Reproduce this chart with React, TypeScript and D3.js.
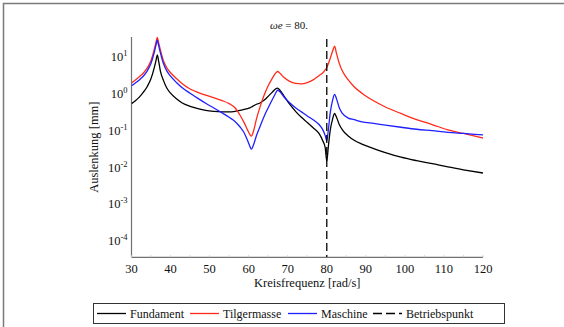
import { useEffect, useRef } from 'react'
import * as d3 from 'd3'

// frequency grid [rad/s]
const freq = [30, 31, 32, 33, 34, 35, 35.8, 36.3, 36.6, 36.9, 37.4, 38.2, 39, 40, 41.5, 43, 45, 47, 49, 51, 53, 55, 56.5, 57.8, 58.8, 59.7, 60.3, 60.7, 61.2, 62, 63, 64, 65, 66, 66.8, 67.4, 68, 69, 70.5, 72, 73.5, 75, 76.5, 78, 79, 79.6, 80, 80.4, 80.9, 81.5, 82, 82.5, 83.2, 84, 85.5, 87, 89, 92, 95, 99, 103, 107, 111, 115, 120]

// amplitudes [mm]
const fundament = [0.52, 0.62, 0.78, 1.05, 1.5, 2.5, 4.8, 8, 11, 8, 4.0, 2.2, 1.4, 1.0, 0.7, 0.54, 0.44, 0.38, 0.34, 0.32, 0.31, 0.31, 0.32, 0.34, 0.36, 0.38, 0.4, 0.42, 0.45, 0.5, 0.55, 0.65, 0.82, 1.05, 1.28, 1.38, 1.2, 0.85, 0.5, 0.32, 0.22, 0.16, 0.115, 0.08, 0.05, 0.033, 0.014, 0.035, 0.1, 0.2, 0.28, 0.22, 0.14, 0.1, 0.068, 0.052, 0.041, 0.031, 0.024, 0.018, 0.0145, 0.012, 0.0098, 0.0082, 0.0067]
const tilgermasse = [1.9, 2.3, 2.8, 3.5, 4.8, 7.8, 15, 25, 33, 25, 15, 7.5, 5.0, 3.6, 2.5, 1.8, 1.3, 1.05, 0.88, 0.76, 0.64, 0.52, 0.4, 0.25, 0.16, 0.1, 0.075, 0.068, 0.09, 0.2, 0.45, 0.9, 1.6, 2.5, 3.4, 3.9, 3.5, 2.7, 2.1, 1.85, 1.8, 1.95, 2.3, 3.0, 3.6, 4.3, 5.0, 6.3, 9, 14, 19, 12, 6.5, 4.0, 2.3, 1.5, 1.0, 0.62, 0.42, 0.28, 0.19, 0.14, 0.1, 0.08, 0.06]
const maschine = [1.6, 1.9, 2.3, 2.9, 4.0, 6.5, 12.5, 21, 28, 21, 12.5, 6.3, 4.1, 2.9, 1.95, 1.4, 1.0, 0.72, 0.53, 0.4, 0.3, 0.22, 0.17, 0.12, 0.085, 0.052, 0.036, 0.03, 0.038, 0.07, 0.13, 0.24, 0.4, 0.65, 0.95, 1.2, 1.1, 0.8, 0.55, 0.4, 0.31, 0.24, 0.19, 0.14, 0.1, 0.07, 0.05, 0.1, 0.3, 0.65, 0.93, 0.7, 0.4, 0.28, 0.21, 0.19, 0.165, 0.15, 0.135, 0.118, 0.104, 0.095, 0.086, 0.08, 0.073]

const xTicks = [30, 40, 50, 60, 70, 80, 90, 100, 110, 120]
const yExps = [1, 0, -1, -2, -3, -4]
const betriebspunkt = 80

const series = [
  { name: 'Fundament', color: '#000000', values: fundament },
  { name: 'Tilgermasse', color: '#ff2a1a', values: tilgermasse },
  { name: 'Maschine', color: '#1f1fff', values: maschine },
]

export default function App() {
  const svgRef = useRef<SVGSVGElement>(null)

  useEffect(() => {
    if (!svgRef.current) return
    const svg = d3.select(svgRef.current)
    svg.selectAll('*').remove()
    const W = 564, H = 327
    const m = { l: 131.5, r: 81, t: 37, b: 69.7 }
    const font = '"Liberation Serif", "Times New Roman", serif'

    svg.attr('width', W).attr('height', H)

    // outer frame
    svg.append('rect').attr('x', 3.5).attr('y', 3.5).attr('width', 580).attr('height', 340)
      .attr('fill', 'none').attr('stroke', '#7a7a7a').attr('stroke-width', 1.5)

    const x = d3.scaleLinear().domain([30, 120]).range([m.l, W - m.r])
    const y = d3.scaleLog().domain([Math.pow(10, -4.47), Math.pow(10, 1.53)]).range([H - m.b, m.t])

    svg.append('defs').append('clipPath').attr('id', 'plotclip').append('rect')
      .attr('x', m.l).attr('y', m.t - 3).attr('width', W - m.r - m.l).attr('height', H - m.b - m.t + 3)

    // axes
    const axisColor = '#707070'
    svg.append('line').attr('x1', m.l).attr('x2', m.l).attr('y1', m.t).attr('y2', H - m.b)
      .attr('stroke', axisColor).attr('stroke-width', 1.2)
    svg.append('line').attr('x1', m.l).attr('x2', W - m.r).attr('y1', H - m.b).attr('y2', H - m.b)
      .attr('stroke', axisColor).attr('stroke-width', 1.2)

    d3.range(30, 121, 5).forEach(t => {
      svg.append('line').attr('x1', x(t)).attr('x2', x(t)).attr('y1', H - m.b).attr('y2', H - m.b - 2)
        .attr('stroke', '#c8c8c8').attr('stroke-width', 1)
    })

    xTicks.forEach(t => {
      svg.append('text').attr('x', x(t)).attr('y', H - m.b + 16).attr('text-anchor', 'middle')
        .attr('font-family', font).attr('font-size', 12.5).attr('fill', '#111').text(t)
    })

    yExps.forEach(e => {
      const yy = y(Math.pow(10, e))
      const t = svg.append('text').attr('x', m.l - 4).attr('y', yy + 5).attr('text-anchor', 'end')
        .attr('font-family', font).attr('font-size', 12.5).attr('fill', '#111')
      t.append('tspan').text('10')
      t.append('tspan').attr('dy', -5).attr('font-size', 8.5).text(String(e))
    })

    svg.append('text').attr('x', x(75)).attr('y', H - m.b + 30).attr('text-anchor', 'middle')
      .attr('font-family', font).attr('font-size', 12.5).attr('fill', '#111').text('Kreisfrequenz [rad/s]')
    svg.append('text').attr('transform', `translate(98,${(m.t + H - m.b) / 2}) rotate(-90)`)
      .attr('text-anchor', 'middle').attr('font-family', font).attr('font-size', 12.5).attr('fill', '#111')
      .text('Auslenkung [mm]')

    // title
    const title = svg.append('text').attr('x', 289).attr('y', 29).attr('text-anchor', 'middle')
      .attr('font-family', font).attr('font-size', 11).attr('fill', '#111')
    title.append('tspan').attr('font-style', 'italic').text('ωe')
    title.append('tspan').text(' = 80.')

    // curves
    const line = d3.line<number>()
      .x((_, i) => x(freq[i])).y(v => y(v)).curve(d3.curveMonotoneX)
    const g = svg.append('g').attr('clip-path', 'url(#plotclip)')
    series.forEach(s => {
      g.append('path').datum(s.values).attr('d', line as any).attr('fill', 'none')
        .attr('stroke', s.color).attr('stroke-width', 1.3)
    })

    // operating point
    g.append('line').attr('x1', x(betriebspunkt)).attr('x2', x(betriebspunkt))
      .attr('y1', m.t + 2).attr('y2', H - m.b)
      .attr('stroke', '#000').attr('stroke-width', 1.3).attr('stroke-dasharray', '8,4')

    // legend
    const lg = svg.append('g')
    lg.append('rect').attr('x', 93.5).attr('y', 303.5).attr('width', 411).attr('height', 20)
      .attr('fill', '#fff').attr('stroke', '#333').attr('stroke-width', 1)
    const items = [
      { name: 'Fundament', color: '#000', x0: 97, dash: null },
      { name: 'Tilgermasse', color: '#ff2a1a', x0: 190, dash: null },
      { name: 'Maschine', color: '#1f1fff', x0: 288, dash: null },
      { name: 'Betriebspunkt', color: '#000', x0: 373, dash: '9,4' },
    ]
    items.forEach(it => {
      lg.append('line').attr('x1', it.x0).attr('x2', it.x0 + 29).attr('y1', 313.5).attr('y2', 313.5)
        .attr('stroke', it.color).attr('stroke-width', 1.3).attr('stroke-dasharray', it.dash)
      lg.append('text').attr('x', it.x0 + 33).attr('y', 317.5).attr('font-family', font)
        .attr('font-size', 12).attr('fill', '#111').text(it.name)
    })
  }, [])

  return (
    <div style={{ position: 'absolute', left: 0, top: 0, width: 564, height: 327, overflow: 'hidden', background: '#fff' }}>
      <svg ref={svgRef} style={{ display: 'block' }} />
    </div>
  )
}
